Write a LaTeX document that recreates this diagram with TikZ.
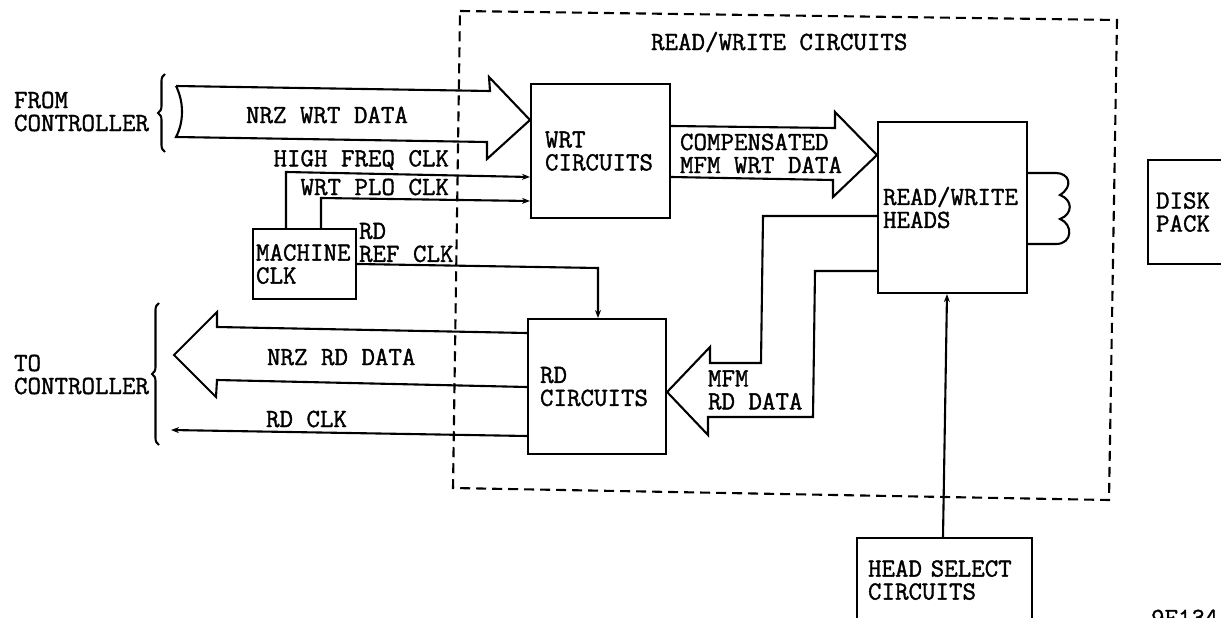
\documentclass[tikz,border=0pt]{standalone}
\usepackage{fontspec}
\setmonofont[AutoFakeBold=1.4]{Latin Modern Mono}
\usetikzlibrary{arrows.meta,calc,decorations.pathreplacing}

\begin{document}
\begin{tikzpicture}[
  x=1pt, y=-1pt,
  line width=2.1pt,
  font=\ttfamily\bfseries\fontsize{26.2}{23}\selectfont,
  box/.style={draw, align=left, inner ysep=5pt, anchor=north west},
  lbl/.style={inner sep=0pt, align=left, anchor=west},
  brace/.style={decorate, decoration={brace, amplitude=7pt}},
  >={Stealth[length=8pt, width=6pt]},
]
\useasboundingbox (0,0) rectangle (1221,618);

% boxes
\node[box, inner xsep=14pt, text width=111pt, minimum height=134pt] (wrt) at (530,83) {WRT\\CIRCUITS};
\node[box, inner xsep=12pt, text width=114pt, minimum height=135pt] (rd) at (527,318) {RD\\CIRCUITS};
\node[box, inner xsep=5pt, text width=139pt, minimum height=171pt] (heads) at (877,121) {READ/WRITE\\HEADS};
\node[box, inner xsep=3pt, text width=97pt, minimum height=70pt] (machine) at (252,228) {MACHINE\\CLK};
\node[box, inner xsep=11pt, text width=153pt, minimum height=84pt] (select) at (856,537) {HEAD SELECT\\CIRCUITS};
\node[box, inner xsep=8pt, text width=59pt, minimum height=104pt] (disk) at (1147,159) {DISK\\PACK};

% read/write boundary
\draw[dash pattern=on 10pt off 6pt] (460,11) -- (1117,20) -- (1109,500) -- (453,488) -- cycle;
\node[lbl] (rwtitle) at (650,42) {READ/WRITE CIRCUITS};

% write data bus
\coordinate (wrttip) at (wrt.west |- 0,120);
\draw (176,86) -- (490,91) -- (489,77) -- (wrttip) -- (487,159) -- (487,142) -- (176,137)
  .. controls (184,122) and (184,102) .. (176,86);
\node[lbl] (wrtdata) at (245,115) {NRZ WRT DATA};

% compensated bus
\coordinate (headtip) at (heads.west |- 0,155);
\draw (wrt.east |- 0,126) -- (835,128) -- (835,112) -- (headtip) -- (833,197) -- (833,180) -- (wrt.east |- 0,177);
\node[lbl] (compdata) at (679,153.5) {COMPENSATED\\MFM WRT DATA};

% mfm read bus
\coordinate (rdtip) at (rd.east |- 0,392);
\draw (heads.west |- 0,216) -- (763,216) -- (761,363) -- (710,363) -- (710,347) -- (rdtip)
  -- (708,435) -- (708,417) -- (813,417) -- (815,271) -- (heads.west |- 0,271);
\node[lbl] (mfmdata) at (707,390) {MFM\\RD DATA};

% nrz read bus
\draw (rd.west |- 0,333) -- (217,327) -- (217,312) -- (174,355) -- (216,397) -- (217,380) -- (rd.west |- 0,387);
\node[lbl] (rddata) at (266,357) {NRZ RD DATA};

% clock lines
\draw[->] (machine.north -| 286,0) -- (286,172) -- (wrt.west |- 0,177);
\draw[->] (machine.north -| 321,0) -- (321,198) -- (wrt.west |- 0,201);
\draw[->] (machine.east |- 0,264) -- (598,268) -- (rd.north -| 598,0);
\draw[->] (rd.west |- 0,436) -- (171,430);
\draw[->] (select.north -| 943,0) -- (heads.south -| 947,0);
\node[lbl, anchor=east] (hfclk) at (450,160) {HIGH FREQ CLK};
\node[lbl, anchor=east] (ploclk) at (450,187) {WRT PLO CLK};
\node[lbl] (refclk) at (358,242.5) {RD\\REF CLK};
\node[lbl] (rdclk) at (265,419) {RD CLK};

% head coil
\draw (heads.east |- 0,173) -- (1056,173) .. controls (1069,173) and (1074,186) .. (1060,195)
  .. controls (1073,200) and (1073,214) .. (1060,219)
  .. controls (1073,224) and (1073,244) .. (1056,244) -- (heads.east |- 0,244);

% controller side
\draw[brace] (165,152) -- (165,74);
\draw[brace] (159,445) -- (159,303);
\node[lbl] (fromctl) at (13,111.5) {FROM\\CONTROLLER};
\node[lbl] (toctl) at (13,374.5) {TO\\CONTROLLER};
\node[lbl] (figno) at (1150,618) {9F134};
\end{tikzpicture}
\end{document}
